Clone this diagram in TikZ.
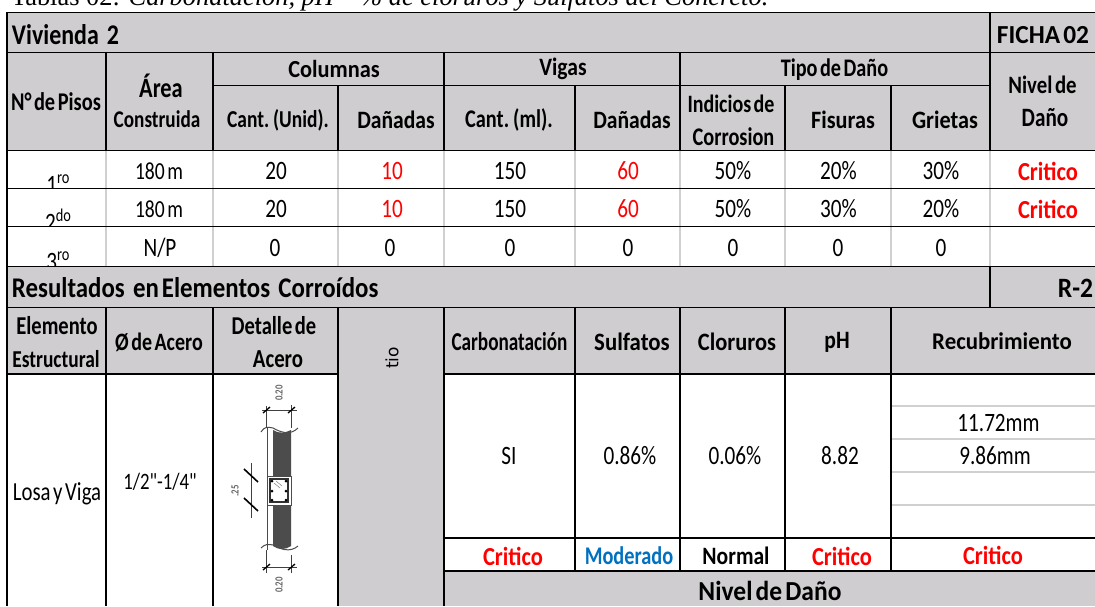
\documentclass[tikz,border=0pt]{standalone}
\usepackage{fontspec}
\setmainfont[FakeStretch=0.8,WordSpace=0.55]{Carlito}
\newfontfamily\plainf[FakeStretch=0.8]{Carlito}
\newfontfamily\capfont{Liberation Serif}
\newfontfamily\tiofont{DejaVu Sans}
\definecolor{hdr}{HTML}{CFCDCF}
\definecolor{grid}{HTML}{D0D0D0}
\definecolor{crit}{HTML}{FF0000}
\definecolor{mod}{HTML}{0070C0}
\newcommand{\fsz}[1]{\fontsize{#1}{#1}\selectfont}
\tikzset{
  x=1pt,y=-1pt,
  every node/.style={inner sep=0pt,outer sep=0pt,anchor=center},
  hd/.style={font=\fsz{#1}\bfseries},
  bd/.style={font=\fsz{#1}},
  body/.style={font=\fsz{26.5}},
  critic/.style={font=\fsz{26}\bfseries,text=crit,xscale=1.08},
  redval/.style={font=\fsz{26.5},text=crit},
  blk/.style={line width=1.7pt,black},
  thn/.style={line width=1.5pt,grid},
  dim/.style={line width=0.8pt,black!75},
  dtxt/.style={font=\fsz{11}\bfseries,text=black!60,rotate=90},
}
\begin{document}
\begin{tikzpicture}
\useasboundingbox (0,0) rectangle (1095,606);
\clip (0,0) rectangle (1095,606);
\fill[white] (0,0) rectangle (1095,606);
% gray areas
\fill[hdr] (7,12) rectangle (1095,150);
\fill[hdr] (7,266) rectangle (1095,374);
\fill[hdr] (338,307) rectangle (444,606);
\fill[hdr] (444,571) rectangle (1095,606);
% caption
\node[anchor=base west,font=\capfont\fsz{26.4}] (cap) at (11,5.5) {Tablas 02: \textit{Carbonatación, pH – \% de cloruros y Sulfatos del Concreto.}};
% clipped floor labels
\begin{scope}
\clip (7,150) rectangle (106,188);
\node[anchor=base,font=\fsz{26.5}] (p1) at (58,193) {1\raisebox{10pt}{\fsz{18}ro}};
\end{scope}
\begin{scope}
\clip (7,188) rectangle (106,226);
\node[anchor=base,font=\fsz{26.5}] (p2) at (58,231) {2\raisebox{10pt}{\fsz{18}do}};
\end{scope}
\begin{scope}
\clip (7,226) rectangle (106,266);
\node[anchor=base,font=\fsz{26.5}] (p3) at (58,270) {3\raisebox{10pt}{\fsz{18}ro}};
\end{scope}
% light grid
\foreach \x in {106,213,338,444,575,680,785,891,990}
  \draw[thn] (\x,150) -- (\x,266);
\foreach \y in {406,439,472,505}
  \draw[thn] (891,\y) -- (1095,\y);
% black lines
\foreach \y in {12.5,52.5,150.5,188.5,226.5,266.5,307.5}
  \draw[blk] (6,\y) -- (1095,\y);
\draw[blk] (213,85.5) -- (990,85.5);
\draw[blk] (7,373.7) -- (338,373.7);
\draw[blk] (444,373.7) -- (1095,373.7);
\draw[blk] (444,538) -- (1095,538);
\draw[blk] (444,570.7) -- (1095,570.7);
\draw[blk] (7,12) -- (7,606);
\foreach \x in {106,213,444,680} \draw[blk] (\x,52) -- (\x,151);
\foreach \x in {338,575,785,891} \draw[blk] (\x,85) -- (\x,151);
\draw[blk] (990,12) -- (990,151);
\draw[blk] (990,266) -- (990,307);
\foreach \x in {106,213,338,444} \draw[blk] (\x,307) -- (\x,606);
\foreach \x in {575,680,785,891} \draw[blk] (\x,307) -- (\x,571);
% header texts
\node[hd=28.5,xscale=1.05,anchor=west] (viv) at (12,35) {Vivienda\, 2};
\node[hd=26,xscale=1.22] (fic) at (1043,35) {FICHA 02};
\node[hd=24.5,xscale=1.14] (col) at (334,69) {Columnas};
\node[hd=25,xscale=1.08] (vig) at (563,69) {Vigas};
\node[hd=25.3] (tip) at (834.5,70) {Tipo de Daño};
\node[hd=25.5] (pis) at (56,102) {N° de Pisos};
\node[hd=28] (are) at (161,86) {Área};
\node[hd=24] (con) at (157,119) {Construida};
\node[hd=24.3] (cu) at (278,120) {Cant. (Unid).};
\node[hd=25,xscale=1.08] (dn1) at (396,120) {Dañadas};
\node[hd=25.4] (cm) at (509,120) {Cant. (ml).};
\node[hd=25,xscale=1.08] (dn2) at (632,120) {Dañadas};
\node[hd=25] (ind) at (731,104) {Indicios de};
\node[hd=25.4] (cor) at (733.5,137) {Corrosion};
\node[hd=25,xscale=1.11] (fis) at (843,120) {Fisuras};
\node[hd=25,xscale=1.11] (gri) at (945,120) {Grietas};
\node[hd=25,xscale=1.04] (niv) at (1042.5,85) {Nivel de};
\node[hd=26.5] (dan) at (1045,118) {Daño};
% rows
\node[bd=24.5] (a1) at (159,171) {180 m};
\node[body] (c1) at (276,171) {20};
\node[redval] (d1) at (392,171) {10};
\node[body] (e1) at (510,171) {150};
\node[redval] (f1) at (628,171) {60};
\node[body] (g1) at (733,171) {50\%};
\node[body] (h1) at (838.5,171) {20\%};
\node[body] (i1) at (941,171) {30\%};
\node[critic] (j1) at (1048,171) {Critico};
\node[bd=24.5] (a2) at (159,209) {180 m};
\node[body] (c2) at (276,209) {20};
\node[redval] (d2) at (392,209) {10};
\node[body] (e2) at (510,209) {150};
\node[redval] (f2) at (628,209) {60};
\node[body] (g2) at (733,209) {50\%};
\node[body] (h2) at (838.5,209) {30\%};
\node[body] (i2) at (941,209) {20\%};
\node[critic] (j2) at (1048,209) {Critico};
\node[body] (a3) at (160,248) {N/P};
\node[body] (c3) at (275,248) {0};
\node[body] (d3) at (390,248) {0};
\node[body] (e3) at (510,248) {0};
\node[body] (f3) at (628,248) {0};
\node[body] (g3) at (733,248) {0};
\node[body] (h3) at (838,248) {0};
\node[body] (i3) at (941,248) {0};
% section 2
\node[hd=28.5,xscale=1.09,anchor=west] (res) at (12,288) {Resultados\, en Elementos\, Corroídos};
\node[hd=28,xscale=1.14,anchor=east] (r2) at (1093,288) {R-2};
\node[hd=25.7] (el) at (57,326) {Elemento};
\node[hd=24.3] (es) at (56,359) {Estructural};
\node[hd=25] (ac) at (159,342) {Ø de Acero};
\node[hd=25.7] (da) at (274,326) {Detalle de};
\node[hd=26] (ac2) at (278,359) {Acero};
\node[font=\tiofont\fsz{17},rotate=90] (tio) at (392,358) {tio};
\node[hd=25.8,xscale=0.93] (car) at (509.5,342) {Carbonatación};
\node[hd=25,xscale=1.14] (sul) at (632,342) {Sulfatos};
\node[hd=25,xscale=1.12] (clo) at (737,342) {Cloruros};
\node[hd=25,xscale=1.08] (ph) at (837,342) {pH};
\node[hd=24,xscale=1.19] (rec) at (1002,341) {Recubrimiento};
\node[bd=26] (lo) at (57,494) {Losa y Viga};
\node[font=\plainf\fsz{23.5}] (fi) at (160,482) {1/2"-1/4"};
\node[body] (si) at (509,456) {SI};
\node[body] (su) at (630,456) {0.86\%};
\node[body] (cl) at (735,456) {0.06\%};
\node[body] (pv) at (840,456) {8.82};
\node[body] (r1) at (998.5,423) {11.72mm};
\node[body] (r3) at (995,456) {9.86mm};
\node[critic] (k1) at (513,556) {Critico};
\node[hd=25.4,text=mod] (k2) at (629,556) {Moderado};
\node[hd=25,xscale=1.08] (k3) at (736,556) {Normal};
\node[critic] (k4) at (842,556) {Critico};
\node[critic] (k5) at (993,555) {Critico};
\node[hd=27.5,xscale=1.16] (nd) at (770,591) {Nivel de Daño};
% steel detail
\fill[black!70] (273,430) .. controls (279,434) and (285,433) .. (291,430) -- (291,546) .. controls (285,550) and (279,550) .. (273,546) -- cycle;
\fill[white] (267,476) rectangle (291,505);
\draw[line width=0.8pt,black!70] (267,476) rectangle (291,505);
\draw[line width=1.2pt,black!80] (270,479) rectangle (288,502);
\fill[black] (272,481) circle (1.5) (286,481) circle (1.5) (272,491) circle (1.5) (286,491) circle (1.5) (272,500) circle (1.5) (286,500) circle (1.5);
\draw[line width=0.5pt,black!50] (274,483) -- (280,488) (276,481) -- (282,486);
\draw[line width=1pt,black!70] (267,428) -- (267,550);
\draw[line width=1pt,black!70] (261,432) .. controls (265,426) and (268,427) .. (273,428) .. controls (280,432) and (290,436) .. (298,428);
\draw[line width=1pt,black!70] (261,548) .. controls (265,544) and (268,544) .. (273,545) .. controls (280,549) and (290,553) .. (298,546);
\draw[dim] (262,410) -- (297,410) (266.7,406) -- (266.7,428) (291,405) -- (291,428);
\draw[dim] (262,567) -- (297,567) (266.7,550) -- (266.7,573) (291,555) -- (291,573);
\draw[line width=1.3pt,black] (263,413) -- (270,407) (288,413) -- (295,407) (263,570) -- (270,564) (288,570) -- (295,564);
\draw[dim] (251,463) -- (251,518);
\draw[line width=1.6pt,black] (244,469) -- (258,482) (244,498) -- (258,511);
\node[dtxt] (t1) at (279,393) {0.20};
\node[dtxt] (t2) at (279,585) {0.20};
\node[dtxt] (t3) at (235,491) {.25};
\end{tikzpicture}
\end{document}
